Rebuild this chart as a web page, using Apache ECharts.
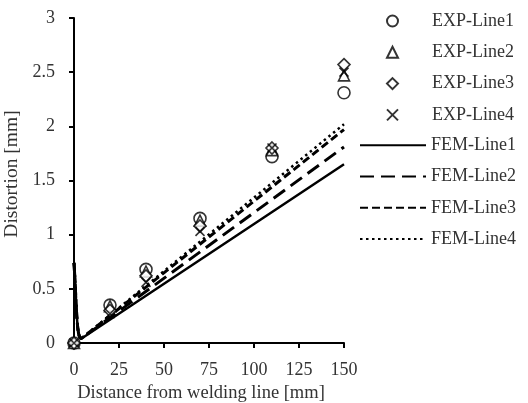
<!DOCTYPE html>
<html>
<head>
<meta charset="utf-8">
<script src="https://cdn.jsdelivr.net/npm/echarts@6/dist/echarts.min.js"></script>
<style>
  html, body { margin: 0; padding: 0; background: #fff; }
  #chart { width: 528px; height: 403px; }
</style>
</head>
<body>
<div id="chart"></div>
<script>
// Measured distortion at each distance from the welding line
var expX = [0, 20, 40, 70, 110, 150];
var expLine1 = [0, 0.35, 0.68, 1.15, 1.72, 2.31];
var expLine2 = [0, 0.34, 0.66, 1.13, 1.78, 2.47];
var expLine3 = [0, 0.30, 0.62, 1.08, 1.80, 2.57];
var expLine4 = [0, 0.27, 0.56, 1.03, 1.80, 2.50];

// FEM predictions: sharp peak at the weld, then a straight rise
var femX = [0, 0.5, 1, 1.5, 2, 2.5, 3, 4, 5, 150];
var femLine1 = [0.74, 0.60, 0.42, 0.26, 0.15, 0.09, 0.06, 0.04, 0.045, 1.65];
var femLine2 = [0.74, 0.60, 0.42, 0.26, 0.15, 0.09, 0.06, 0.04, 0.045, 1.81];
var femLine3 = [0.74, 0.60, 0.42, 0.26, 0.15, 0.09, 0.06, 0.04, 0.045, 1.97];
var femLine4 = [0.74, 0.60, 0.42, 0.26, 0.15, 0.09, 0.06, 0.04, 0.045, 2.02];

var xTicks = [0, 25, 50, 75, 100, 125, 150];
var yTicks = [0, 0.5, 1, 1.5, 2, 2.5, 3];

var expNames = ['EXP-Line1', 'EXP-Line2', 'EXP-Line3', 'EXP-Line4'];
var femNames = ['FEM-Line1', 'FEM-Line2', 'FEM-Line3', 'FEM-Line4'];

function pairs(xs, ys) {
  return xs.map(function (x, i) { return [x, ys[i]]; });
}

var FONT = 'Liberation Serif';
var INK = '#000';
var TEXT = '#333';

function expSeries(name, symbol, ys, size) {
  return {
    name: name,
    type: 'scatter',
    symbol: symbol,
    symbolSize: size,
    data: pairs(expX, ys),
    itemStyle: { color: '#fff', borderColor: INK, borderWidth: 1.6 },
    z: 3
  };
}

function femSeries(name, ys, width, dash) {
  return {
    name: name,
    type: 'line',
    symbol: 'none',
    showSymbol: false,
    data: pairs(femX, ys),
    lineStyle: { color: INK, width: width, type: dash },
    itemStyle: { color: INK },
    z: 2
  };
}

var legendText = { fontFamily: FONT, fontSize: 18, color: TEXT, lineHeight: 20 };

var chart = echarts.init(document.getElementById('chart'), null, { renderer: 'canvas' });

chart.setOption({
  animation: false,
  backgroundColor: '#fff',
  textStyle: { fontFamily: FONT, color: TEXT },
  grid: { left: 74, right: 184, top: 18, bottom: 60, containLabel: false, outerBoundsMode: 'none' },
  legend: [
    {
      // measurement markers, centred over the line samples below
      orient: 'vertical',
      left: 386,
      top: 11,
      padding: 0,
      itemWidth: 11,
      itemHeight: 11,
      itemGap: 11.3,
      textStyle: Object.assign({ padding: [0, 0, 0, 29] }, legendText),
      data: expNames
    },
    {
      orient: 'vertical',
      left: 359,
      top: 135.2,
      padding: 0,
      itemWidth: 66,
      itemHeight: 11,
      itemGap: 11.3,
      textStyle: legendText,
      data: femNames.map(function (n) {
        return { name: n, itemStyle: { color: 'rgba(0,0,0,0)', borderWidth: 0, opacity: 0 } };
      })
    }
  ],
  xAxis: {
    type: 'value',
    min: xTicks[0],
    max: xTicks[xTicks.length - 1],
    interval: 25,
    name: 'Distance from welding line [mm]',
    nameLocation: 'middle',
    nameGap: 38,
    nameTextStyle: { fontFamily: FONT, fontSize: 18.5, color: TEXT, padding: [0, 16, 0, 0] },
    axisLine: { lineStyle: { color: INK, width: 2 } },
    axisTick: { show: true, length: 5, lineStyle: { color: INK, width: 2 } },
    axisLabel: { fontFamily: FONT, fontSize: 18, color: TEXT, margin: 18 },
    splitLine: { show: false }
  },
  yAxis: {
    type: 'value',
    min: yTicks[0],
    max: yTicks[yTicks.length - 1],
    interval: 0.5,
    name: 'Distortion [mm]',
    nameLocation: 'middle',
    nameRotate: 90,
    nameGap: 47,
    nameTextStyle: { fontFamily: FONT, fontSize: 19.5, color: TEXT, padding: [0, 0, 0, 13] },
    axisLine: { show: true, lineStyle: { color: INK, width: 2 } },
    axisTick: { show: true, length: 5, lineStyle: { color: INK, width: 2 } },
    axisLabel: { fontFamily: FONT, fontSize: 18, color: TEXT, margin: 19 },
    splitLine: { show: false }
  },
  series: [
    femSeries('FEM-Line1', femLine1, 2.5, 'solid'),
    femSeries('FEM-Line2', femLine2, 3, [14, 7]),
    femSeries('FEM-Line3', femLine3, 3, [8, 4]),
    femSeries('FEM-Line4', femLine4, 2.5, [2.5, 3.5]),
    expSeries('EXP-Line1', 'circle', expLine1, 12),
    expSeries('EXP-Line2', 'triangle', expLine2, 11),
    expSeries('EXP-Line3', 'diamond', expLine3, 12),
    expSeries('EXP-Line4', 'path://M0,0L10,10M10,0L0,10', expLine4, 9)
  ]
});
</script>
</body>
</html>
